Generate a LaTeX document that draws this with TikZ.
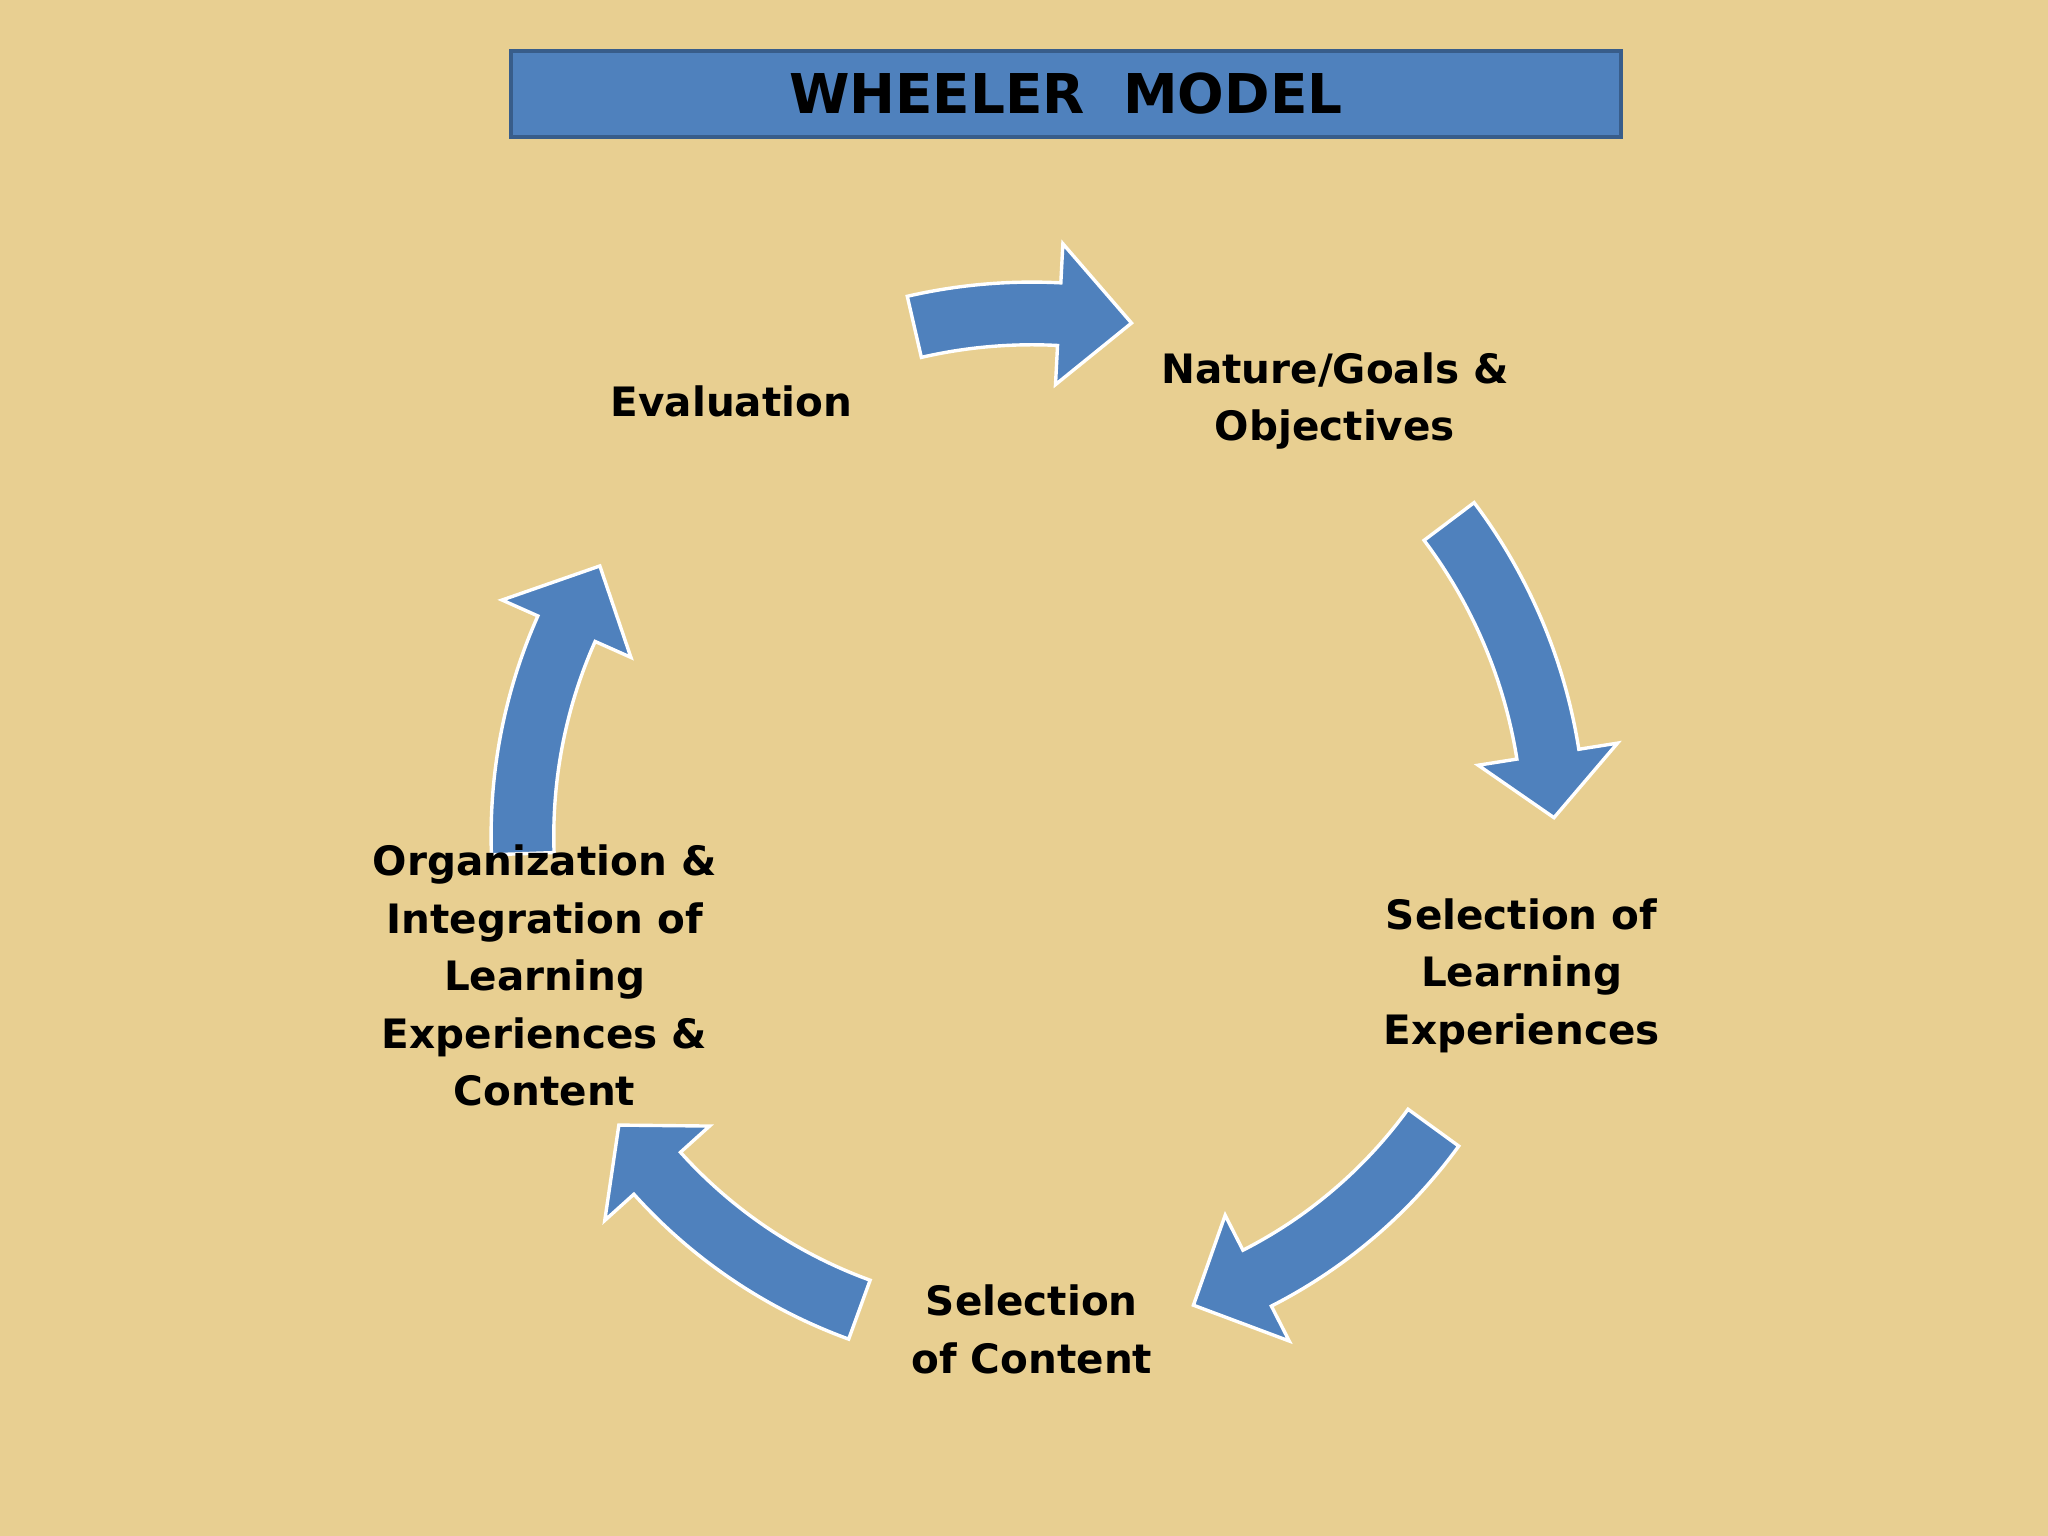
\documentclass[tikz,border=0pt]{standalone}
\usepackage{fontspec}
\setmainfont{DejaVu Sans}
\definecolor{bg}{RGB}{232,207,145}
\definecolor{blu}{RGB}{79,129,189}
\definecolor{bord}{RGB}{56,93,138}
\tikzset{lbl/.style={font=\bfseries\fontsize{15.5}{22}\selectfont,align=center,text=black}}
\newcommand{\cycarrow}[4]{%
\filldraw[fill=blu,draw=white,line width=1.3pt,shift={(790,536)}]
 (#1:#4pt+12pt) arc[start angle=#1,end angle=#2,radius=#4pt+12pt] -- (#2:#4pt+27pt) -- (#3:#4pt) -- (#2:#4pt-27pt) -- (#2:#4pt-12pt)
 arc[start angle=#2,end angle=#1,radius=#4pt-12pt] -- cycle;}
\begin{document}
\begin{tikzpicture}[x=0.5pt,y=0.5pt]
\fill[bg] (0,0) rectangle (1568,1176);
\useasboundingbox (0,0) rectangle (1568,1176);
\node[draw=bord,line width=1.5pt,fill=blu,minimum width=425pt,minimum height=33pt,font=\bfseries\fontsize{21}{25}\selectfont] (title) at (816,1104) {WHEELER\ \ MODEL};
\cycarrow{103}{87}{79}{200}
\cycarrow{37}{9}{2}{200}
\cycarrow{-36}{-63}{-71}{190}
\cycarrow{-110}{-138}{-145}{193}
\cycarrow{182}{156}{148}{195}
\node[lbl] (ev) at (560,869) {Evaluation};
\node[lbl] (ng) at (1022,869) {Nature/Goals \&\\Objectives};
\node[lbl] (sl) at (1165,429) {Selection of\\Learning\\Experiences};
\node[lbl] (sc) at (790,158) {Selection\\of Content};
\node[lbl] (or) at (417,429) {Organization \&\\Integration of\\Learning\\Experiences \&\\Content};
\end{tikzpicture}
\end{document}
